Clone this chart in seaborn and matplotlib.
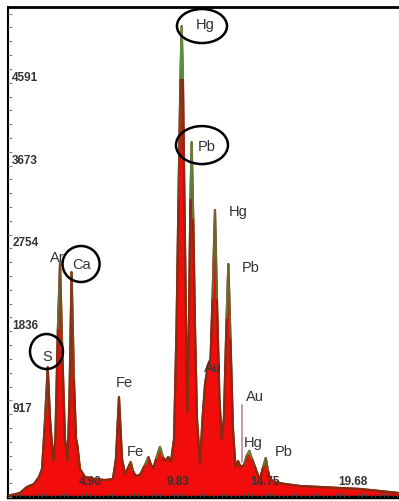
import numpy as np
import matplotlib
matplotlib.use("Agg")
import matplotlib.pyplot as plt
import seaborn as sns
from matplotlib.collections import LineCollection
from matplotlib.colors import LinearSegmentedColormap
from matplotlib.patches import Ellipse
from matplotlib.ticker import FixedLocator, MultipleLocator

# EDX spectrum: energy (keV) and counts
energy = [0.30, 0.97, 1.36, 1.76, 2.04, 2.21, 2.35, 2.53, 2.66, 2.84, 2.96, 3.10,
          3.22, 3.36, 3.50, 3.65, 3.75, 3.87, 4.00, 4.12, 4.20, 4.34, 4.62, 5.18,
          5.74, 6.19, 6.36, 6.53, 6.70, 6.87, 7.01, 7.19, 7.32, 7.46, 7.71, 7.99,
          8.18, 8.33, 8.46, 8.61, 8.83, 9.00, 9.11, 9.30, 9.45, 9.62, 9.76, 9.87,
          9.98, 10.05, 10.12, 10.24, 10.36, 10.46, 10.54, 10.61, 10.70, 10.80, 10.91, 11.08,
          11.22, 11.36, 11.53, 11.67, 11.78, 11.92, 12.03, 12.17, 12.30, 12.42, 12.57, 12.67,
          12.79, 12.93, 13.07, 13.21, 13.36, 13.55, 13.72, 13.85, 14.00, 14.17, 14.33, 14.45,
          14.62, 14.77, 14.90, 15.01, 15.29, 15.85, 16.70, 17.82, 18.94, 20.06, 21.18, 22.25]
counts = [11, 44, 111, 144, 222, 310, 753, 1440, 864, 399, 643, 1861,
          2593, 1529, 643, 399, 1086, 2493, 1307, 643, 565, 310, 222, 199,
          188, 199, 421, 1108, 421, 255, 310, 388, 288, 233, 244, 355,
          443, 355, 321, 421, 554, 443, 399, 443, 388, 643, 1861, 3302,
          4631, 5219, 4631, 2748, 942, 1972, 3302, 3933, 3080, 1861, 864, 366,
          864, 1252, 1463, 1529, 2194, 3180, 2194, 1086, 643, 864, 1972, 2582,
          1751, 753, 332, 399, 332, 355, 465, 510, 421, 332, 244, 199,
          332, 432, 288, 199, 166, 144, 122, 111, 100, 89, 66, 44]

yticks = [917, 1836, 2754, 3673, 4591]
xticks = [4.90, 9.83, 14.75, 19.68]
xtick_labels = ["4.90", "9.83", "14.75", "19.68"]

# element labels (text, energy, counts)
labels = ["Hg", "Pb", "Hg", "Pb", "Au", "Au", "Hg", "Pb", "Fe", "Fe", "S", "Ar", "Ca"]
label_x = [11.36, 11.47, 13.21, 13.94, 11.81, 14.17, 14.05, 15.79, 6.81, 7.43, 2.52, 3.05, 4.45]
label_y = [5241, 3889, 3169, 2548, 1440, 1119, 609, 510, 1274, 510, 1562, 2659, 2582]

# circled elements: centre (energy, counts), width (keV), height (counts)
circ_x = [11.19, 11.19, 2.46, 4.40]
circ_y = [5219, 3900, 1612, 2582]
circ_w = [2.81, 2.92, 1.85, 2.08]
circ_h = [377, 421, 388, 399]

# Au KLM marker
marker_x = 13.42
marker_y = [388, 1019]

sns.set_style("white")
plt.rcParams["font.family"] = ["Liberation Sans", "DejaVu Sans"]

fig = plt.figure(figsize=(3.99, 5.02), dpi=100)
ax = fig.add_axes([8 / 399, 4 / 502, 391 / 399, 490 / 502])
ax.set_axisbelow(False)

ax.fill_between(energy, counts, 0, color="#f20c0c", lw=0, zorder=1)
sns.lineplot(x=energy, y=counts, ax=ax, color="#8c2a10", lw=1.6, sort=False, zorder=2)

# green tips on the peaks
c = np.array(counts, dtype=float)
e = np.array(energy)
segs, ratios = [], []
for i in range(len(c) - 1):
    lo, hi = max(0, i - 3), min(len(c), i + 5)
    loc = c[lo:hi].max()
    segs.append([(e[i], c[i]), (e[i + 1], c[i + 1])])
    ratios.append(0.5 * (c[i] + c[i + 1]) / loc)
cmap = LinearSegmentedColormap.from_list(
    "tip", [(0, "#8c2a10"), (0.7, "#8c2a10"), (0.82, "#6e5a26"), (1, "#5aa84a")])
lc = LineCollection(segs, colors=cmap(np.clip(ratios, 0, 1)), linewidths=1.5, zorder=3)
ax.add_collection(lc)

ax.plot([marker_x, marker_x], marker_y, color="#c98aae", lw=1.3, zorder=3)

for t, x, y in zip(labels, label_x, label_y):
    ax.text(x, y, t, ha="center", va="center", fontsize=10.5, color="#333333", zorder=4)
for x, y, w, h in zip(circ_x, circ_y, circ_w, circ_h):
    ax.add_patch(Ellipse((x, y), w, h, fill=False, ec="black", lw=1.8,
                         zorder=5, clip_on=False))

ax.set_xlim(0.30, 22.25)
ax.set_ylim(0, 5430)

ax.yaxis.set_major_locator(FixedLocator(yticks))
ax.set_yticklabels([str(v) for v in yticks])
ax.yaxis.set_minor_locator(MultipleLocator(153.03))
ax.xaxis.set_major_locator(FixedLocator(xticks))
ax.set_xticklabels(xtick_labels)
ax.xaxis.set_minor_locator(MultipleLocator(0.246))

ax.tick_params(axis="y", which="major", direction="in", length=5, width=1,
               color="#666666", pad=-3, labelsize=8.5, labelcolor="#333333")
ax.tick_params(axis="y", which="minor", direction="in", length=3, width=0.8,
               color="#888888", left=True)
ax.tick_params(axis="x", which="major", direction="in", length=4, width=1,
               color="#444444", pad=-7, labelsize=8.5, labelcolor="#333333")
ax.tick_params(axis="x", which="minor", direction="in", length=3, width=0.8,
               color="#444444", bottom=True)
plt.setp(ax.get_yticklabels(), ha="left", va="bottom", fontweight="bold")
plt.setp(ax.get_xticklabels(), va="bottom", fontweight="bold")

for s in ["left", "top", "bottom"]:
    ax.spines[s].set_color("black")
ax.spines["left"].set_linewidth(1.5)
ax.spines["top"].set_linewidth(2)
ax.spines["bottom"].set_linewidth(2.5)
ax.spines["right"].set_visible(False)

ax.set_xlabel("")
ax.set_ylabel("")

fig.savefig("out.png", dpi=100, facecolor="white")
